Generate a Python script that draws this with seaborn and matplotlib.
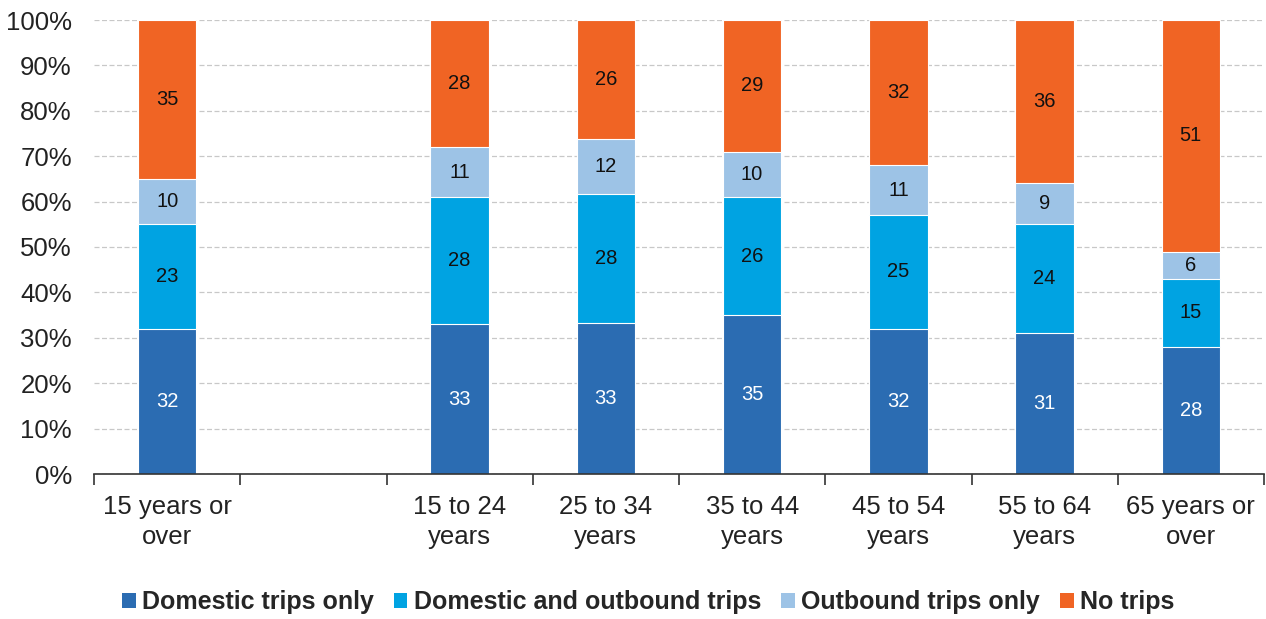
import matplotlib
matplotlib.use("Agg")
import matplotlib.pyplot as plt
import seaborn as sns
import pandas as pd
import numpy as np
from matplotlib.patches import Patch

sns.set_theme(style="white")
plt.rcParams["font.family"] = ["Liberation Sans", "DejaVu Sans"]

# Age groups (an empty slot separates the total from the breakdown)
categories = ["15 years or\nover", "", "15 to 24\nyears", "25 to 34\nyears",
              "35 to 44\nyears", "45 to 54\nyears", "55 to 64\nyears", "65 years or\nover"]
series = ["Domestic trips only", "Domestic and outbound trips", "Outbound trips only", "No trips"]
domestic_only = [32, None, 33, 33, 35, 32, 31, 28]
domestic_and_outbound = [23, None, 28, 28, 26, 25, 24, 15]
outbound_only = [10, None, 11, 12, 10, 11, 9, 6]
no_trips = [35, None, 28, 26, 29, 32, 36, 51]

colors = ["#2B6CB2", "#00A3E2", "#9DC3E6", "#F06424"]
label_colors = ["white", "#111111", "#111111", "#111111"]

rows = []
for i, cat in enumerate(categories):
    vals = [domestic_only[i], domestic_and_outbound[i], outbound_only[i], no_trips[i]]
    if vals[0] is None:
        continue
    total = sum(vals)
    cum = 0.0
    for s, v in zip(series, vals):
        share = v / total * 100
        rows.append({"category": cat, "series": s, "value": v,
                     "bottom": cum, "top": cum + share})
        cum += share
df = pd.DataFrame(rows)

fig = plt.figure(figsize=(12.66, 6.19), dpi=100)
ax = fig.add_axes([94 / 1266, 1 - 474 / 619, (1264 - 94) / 1266, (474 - 20) / 619])

# Stacked bars: draw cumulative tops from the last series down to the first
for s, c in reversed(list(zip(series, colors))):
    sub = df[df["series"] == s]
    sns.barplot(data=sub, x="category", y="top", order=categories, color=c,
                width=0.4, saturation=1, edgecolor="white", linewidth=0.8, ax=ax)

# Segment value labels
pos = {c: i for i, c in enumerate(categories)}
for _, r in df.iterrows():
    col = label_colors[series.index(r["series"])]
    ax.text(pos[r["category"]], (r["bottom"] + r["top"]) / 2, f"{r['value']:.0f}",
            ha="center", va="center", fontsize=14.5, color=col)

ax.set_ylim(0, 100)
ax.set_xlim(-0.5, len(categories) - 0.5)
ax.set_yticks(np.arange(0, 101, 10))
ax.set_yticklabels([f"{v}%" for v in range(0, 101, 10)], fontsize=18.5, color="#222222")
ax.yaxis.grid(True, linestyle=(0, (4, 2)), color="#c8c8c8", linewidth=0.9)
ax.set_axisbelow(True)
ax.tick_params(axis="y", length=0, pad=16)

# Category boundaries as major ticks, labels on minor ticks at the centres
ax.set_xticks(np.arange(-0.5, len(categories), 1.0))
ax.set_xticklabels([])
ax.set_xticks(np.arange(len(categories)), minor=True)
ax.set_xticklabels(categories, minor=True, fontsize=18.5, color="#222222", linespacing=1.3)
ax.tick_params(axis="x", which="major", bottom=True, length=8, width=1.2,
               color="#333333", direction="out")
ax.tick_params(axis="x", which="minor", bottom=True, length=0, pad=15)
ax.set_xlabel("")
ax.set_ylabel("")

for side in ["left", "right", "top"]:
    ax.spines[side].set_visible(False)
ax.spines["bottom"].set_color("#333333")
ax.spines["bottom"].set_linewidth(1.2)

handles = [Patch(facecolor=c, edgecolor="none", label=s) for s, c in zip(series, colors)]
fig.legend(handles=handles, loc="center", bbox_to_anchor=(648 / 1266, 1 - 602 / 619),
           ncol=4, frameon=False, handlelength=0.55, handleheight=0.55,
           handletextpad=0.25, columnspacing=0.8,
           prop={"weight": "bold", "size": 18})

fig.savefig("out.png", dpi=100)
